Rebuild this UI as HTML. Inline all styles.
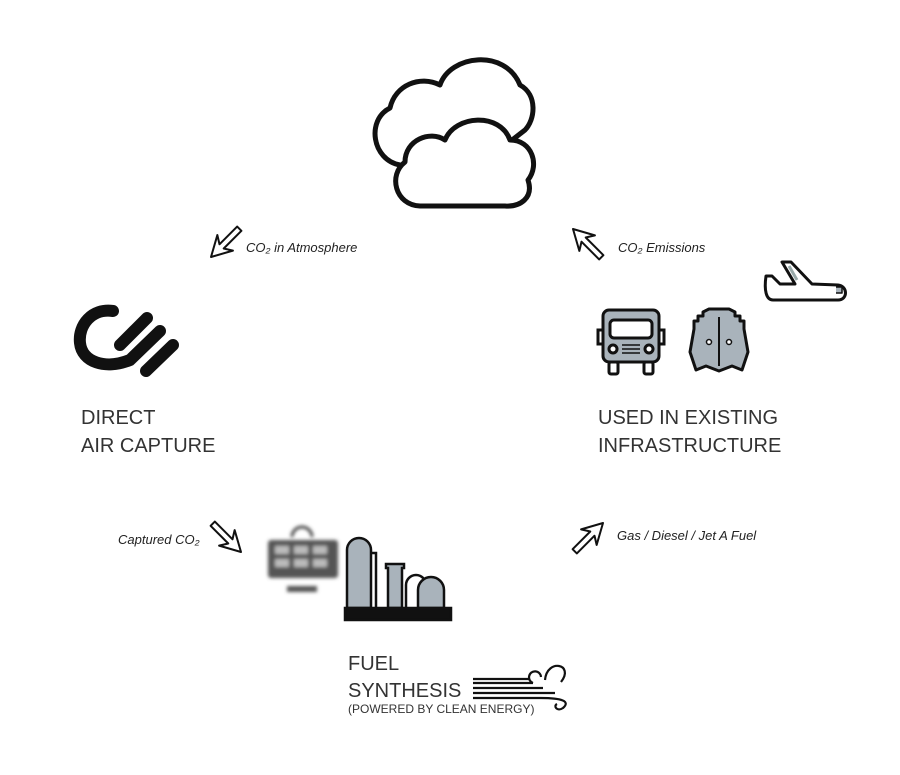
<!DOCTYPE html>
<html><head><style>
body{margin:0;background:#fff;}
svg{display:block}
text{font-family:"Liberation Sans",sans-serif;}
.big{font-size:20px;fill:#333;}
.it{font-size:13px;font-style:italic;fill:#222;}
</style></head><body>
<svg width="900" height="775" viewBox="0 0 900 775" xmlns="http://www.w3.org/2000/svg">
<defs><filter id="bl"><feGaussianBlur stdDeviation="1.8"/></filter>
<path id="ar" d="M0,0 L20,-11 L15,-3 L40,-3 L40,3 L15,3 L20,11 Z" fill="#fff" stroke="#111" stroke-width="2" stroke-linejoin="round"/>
</defs>
<!-- clouds -->
<g fill="#fff" stroke="#111" stroke-width="5" stroke-linejoin="round">
<path d="M400,165 C372,160 366,120 390,108 C395,85 420,75 440,85 C450,55 505,48 520,85 C538,95 535,120 525,130 L480,165 Z"/>
<path d="M420,206 C395,205 388,175 405,162 C405,140 430,130 445,140 C455,115 500,112 510,140 C532,140 540,165 528,180 C534,198 520,207 505,206 Z"/>
</g>
<!-- arrows -->
<use href="#ar" transform="translate(211,257) rotate(-45)"/>
<use href="#ar" transform="translate(573,229) rotate(45)"/>
<use href="#ar" transform="translate(241,552) rotate(-135)"/>
<use href="#ar" transform="translate(603,523) rotate(135)"/>
<text class="it" x="246" y="252">CO₂ in Atmosphere</text>
<text class="it" x="618" y="252">CO₂ Emissions</text>
<text class="it" x="118" y="544">Captured CO₂</text>
<text class="it" x="617" y="540">Gas / Diesel / Jet A Fuel</text>
<!-- logo -->
<g stroke="#111" stroke-width="12" stroke-linecap="round" fill="none">
<path d="M113,311 C92,308 78,325 80,343 C82,362 105,370 130,360 L160,331"/>
<line x1="120" y1="345" x2="147" y2="318"/>
<line x1="146" y1="371" x2="173" y2="345"/>
</g>
<text class="big" x="81" y="424">DIRECT</text>
<text class="big" x="81" y="452">AIR CAPTURE</text>
<text class="big" x="598" y="424">USED IN EXISTING</text>
<text class="big" x="598" y="452">INFRASTRUCTURE</text>
<!-- truck -->
<g stroke="#111" stroke-width="3" fill="#a9b3bb">
<rect x="603" y="310" width="56" height="52" rx="6"/>
<rect x="610" y="320" width="42" height="18" rx="4" fill="#fff"/>
<rect x="598" y="330" width="5" height="14" fill="#fff"/>
<rect x="659" y="330" width="5" height="14" fill="#fff"/>
<rect x="609" y="362" width="9" height="12" rx="2" fill="#fff"/>
<rect x="644" y="362" width="9" height="12" rx="2" fill="#fff"/>
<circle cx="613" cy="349" r="4" fill="#fff"/><circle cx="649" cy="349" r="4" fill="#fff"/>
<path d="M622,345h18M622,349h18M622,353h18" stroke-width="1.5"/>
</g>
<!-- ship -->
<g stroke="#111" stroke-width="3" fill="#a9b3bb" stroke-linejoin="round">
<path d="M703,312 l6,-3 h20 l6,3 v4 h5 v5 h4 v8 L748,352 L742,370 L732,366 L719,371 L706,366 L696,370 L690,352 L694,329 v-8 h4 v-5 h5 Z"/>
<line x1="719" y1="317" x2="719" y2="366" stroke-width="2"/>
<circle cx="709" cy="342" r="2.5" fill="#fff" stroke-width="1.5"/><circle cx="729" cy="342" r="2.5" fill="#fff" stroke-width="1.5"/>
</g>
<!-- plane -->
<g stroke="#111" stroke-width="3" fill="#fff" stroke-linejoin="round">
<path d="M766,276 L772,276 L780,284 L795,284 L782,262 L791,262 L812,284 L838,285 C848,286 848,300 838,300 L773,300 C766,300 764,290 766,276 Z"/>
<path d="M789,266 L797,280" stroke="#9aa" stroke-width="3"/>
<path d="M836,287 h6 v6 h-6" fill="#a9b3bb" stroke-width="1.5"/>
</g>
<!-- solar -->
<g filter="url(#bl)">
<path d="M292,537 a10,10 0 0 1 20,0" fill="none" stroke="#444" stroke-width="3"/>
<rect x="268" y="540" width="70" height="38" rx="3" fill="#555"/>
<rect x="275" y="546" width="14" height="8" fill="#bbb"/><rect x="294" y="546" width="14" height="8" fill="#bbb"/><rect x="313" y="546" width="14" height="8" fill="#bbb"/>
<rect x="275" y="559" width="14" height="8" fill="#bbb"/><rect x="294" y="559" width="14" height="8" fill="#bbb"/><rect x="313" y="559" width="14" height="8" fill="#bbb"/>
<rect x="287" y="586" width="30" height="6" fill="#555"/>
</g>
<!-- refinery -->
<g stroke="#111" stroke-width="2.5" fill="#a9b3bb">
<path d="M347,608 V550 a12,12 0 0 1 24,0 V608 Z"/>
<path d="M371,553 h5 v55" fill="none"/>
<path d="M388,608 V568 h-2 v-4 h18 v4 h-2 V608 Z"/>
<path d="M406,608 V585 a10,10 0 0 1 20,0" fill="none"/>
<path d="M418,608 V590 a13,13 0 0 1 26,0 V608 Z"/>
<rect x="345" y="608" width="106" height="12" fill="#111"/>
</g>
<text class="big" x="348" y="670">FUEL</text>
<text class="big" x="348" y="697">SYNTHESIS</text>
<text x="348" y="713" style="font-size:12px;fill:#333">(POWERED BY CLEAN ENERGY)</text>
<!-- wind -->
<g stroke="#111" stroke-width="2.2" fill="none">
<path d="M473,683h60M473,688h70M473,693h82M473,698h68M473,679h56"/>
<path d="M533,683 a6,6 0 1 1 8,-6"/>
<path d="M545,680 c2,-22 30,-16 16,2"/>
<path d="M541,698 c20,0 30,3 22,10 c-6,4 -10,-2 -6,-4"/>
</g>
</svg>
</body></html>
